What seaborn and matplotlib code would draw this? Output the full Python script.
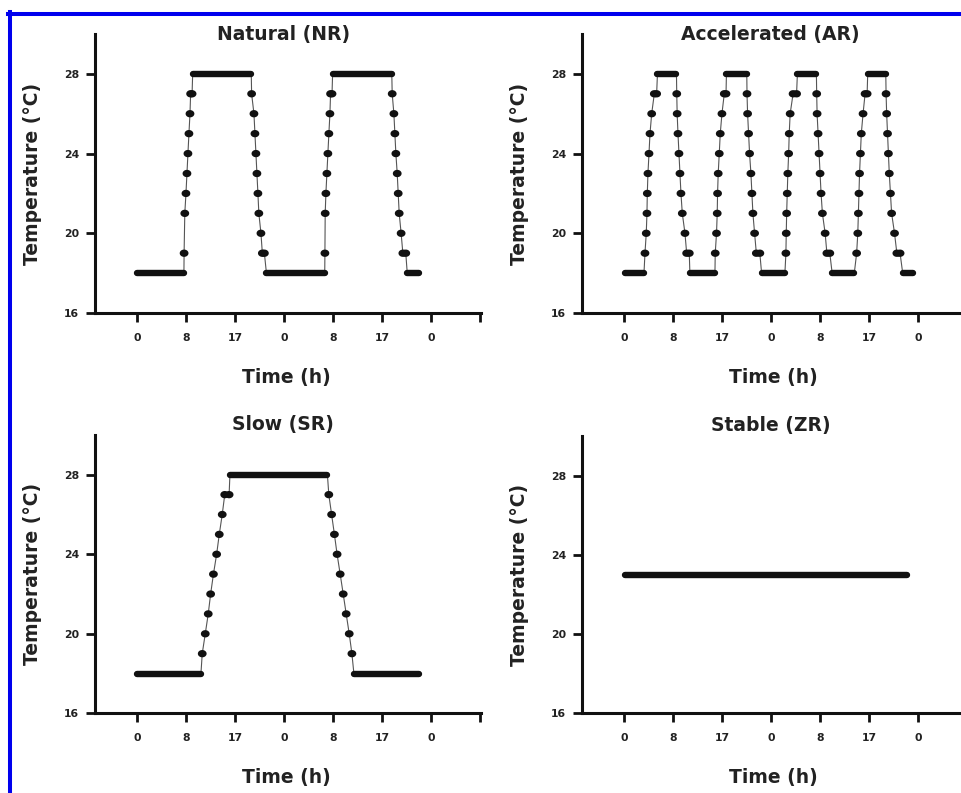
import numpy as np
import pandas as pd
import matplotlib
matplotlib.use("Agg")
import matplotlib.pyplot as plt
import seaborn as sns
from matplotlib.lines import Line2D
from matplotlib.path import Path

# ---------------- data (time in h, temperature in degC) ----------------
x_tick_pos = [0, 8.4, 16.8, 25.2, 33.6, 42.0, 50.4, 58.8]
x_tick_labels = ["0", "8", "17", "0", "8", "17", "0", ""]
y_ticks = [16, 20, 24, 28]
y_tick_labels = ["16", "20", "24", "28"]
titles = ["Natural (NR)", "Accelerated (AR)", "Slow (SR)", "Stable (ZR)"]

# Natural (NR)
nr_flat_start = [0.0, 9.55, 22.2, 33.55, 46.35]
nr_flat_end = [8.05, 19.6, 32.2, 43.7, 48.3]
nr_flat_temp = [18, 28, 18, 28, 18]
nr_ramp_time = [8.08, 8.2, 8.4, 8.57, 8.74, 8.91, 9.09, 9.2, 9.45,
                19.66, 20.06, 20.23, 20.4, 20.57, 20.74, 20.9, 21.26, 21.5, 21.85,
                32.23, 32.28, 32.4, 32.57, 32.74, 32.91, 33.09, 33.2, 33.45,
                43.77, 44.06, 44.23, 44.4, 44.63, 44.8, 44.97, 45.3, 45.6, 46.1]
nr_ramp_temp = [19, 21, 22, 23, 24, 25, 26, 27, 27,
                27, 26, 25, 24, 23, 22, 21, 20, 19, 19,
                19, 21, 22, 23, 24, 25, 26, 27, 27,
                27, 26, 25, 24, 23, 22, 21, 20, 19, 19]

# Accelerated (AR)
ar_flat_start = [0.17, 5.74, 11.3, 17.57, 23.6, 29.74, 35.7, 41.8, 47.8]
ar_flat_end = [3.43, 9.0, 15.6, 21.06, 27.6, 33.0, 39.5, 44.9, 49.5]
ar_flat_temp = [18, 28, 18, 28, 18, 28, 18, 28, 18]
ar_ramp_time = [3.6, 3.82, 3.94, 4.0, 4.11, 4.29, 4.46, 4.75, 5.2, 5.6,
                9.05, 9.12, 9.26, 9.43, 9.6, 9.77, 10.0, 10.46, 10.75, 11.2,
                15.65, 15.87, 15.99, 16.05, 16.16, 16.34, 16.51, 16.8, 17.2, 17.5,
                21.1, 21.2, 21.37, 21.54, 21.77, 21.94, 22.11, 22.4, 22.7, 23.3,
                27.77, 27.83, 27.9, 28.0, 28.1, 28.24, 28.34, 28.5, 29.0, 29.6,
                33.05, 33.12, 33.29, 33.46, 33.63, 33.8, 34.03, 34.5, 34.8, 35.3,
                39.9, 40.1, 40.2, 40.3, 40.4, 40.55, 40.7, 41.0, 41.35, 41.7,
                44.95, 45.05, 45.2, 45.35, 45.5, 45.7, 45.9, 46.4, 46.8, 47.35]
ar_ramp_temp = [19, 20, 21, 22, 23, 24, 25, 26, 27, 27,
                27, 26, 25, 24, 23, 22, 21, 20, 19, 19,
                19, 20, 21, 22, 23, 24, 25, 26, 27, 27,
                27, 26, 25, 24, 23, 22, 21, 20, 19, 19,
                19, 20, 21, 22, 23, 24, 25, 26, 27, 27,
                27, 26, 25, 24, 23, 22, 21, 20, 19, 19,
                19, 20, 21, 22, 23, 24, 25, 26, 27, 27,
                27, 26, 25, 24, 23, 22, 21, 20, 19, 19]

# Slow (SR)
sr_flat_start = [0.07, 15.94, 37.2]
sr_flat_end = [10.97, 32.66, 48.35]
sr_flat_temp = [18, 28, 18]
sr_ramp_time = [11.19, 11.71, 12.22, 12.63, 13.11, 13.66, 14.11, 14.62, 15.05, 15.8,
                32.9, 33.38, 33.86, 34.32, 34.85, 35.37, 35.88, 36.4, 36.86]
sr_ramp_temp = [19, 20, 21, 22, 23, 24, 25, 26, 27, 27,
                27, 26, 25, 24, 23, 22, 21, 20, 19]

# Stable (ZR)
zr_flat_start = [0.17]
zr_flat_end = [48.6]
zr_flat_temp = [23]
zr_ramp_time = []
zr_ramp_temp = []

# ---------------- style ----------------
sns.set_style("ticks")
plt.rcParams["font.family"] = ["DejaVu Sans"]
plt.rcParams["font.weight"] = "bold"
TXT = "#222222"
INK = "#111111"

# slightly wide elliptical dot marker
_ang = np.linspace(0, 2 * np.pi, 40)
ellipse_marker = Path(np.column_stack([1.2 * np.cos(_ang), np.sin(_ang)]), closed=True)

fig = plt.figure(figsize=(9.62, 7.93), dpi=100)

W, H = 962.0, 793.0
panels = [
    # left px, top px, bottom px, title y (axes frac)
    (95, 34, 313, 1.0),
    (582, 34, 313, 1.0),
    (95, 435, 713.3, 1.038),
    (582, 436, 713.3, 1.038),
]
datasets = [
    (nr_flat_start, nr_flat_end, nr_flat_temp, nr_ramp_time, nr_ramp_temp),
    (ar_flat_start, ar_flat_end, ar_flat_temp, ar_ramp_time, ar_ramp_temp),
    (sr_flat_start, sr_flat_end, sr_flat_temp, sr_ramp_time, sr_ramp_temp),
    (zr_flat_start, zr_flat_end, zr_flat_temp, zr_ramp_time, zr_ramp_temp),
]

for (lpx, tpx, bpx, ty), (fs, fe, ft, rt, rT), title in zip(panels, datasets, titles):
    ax = fig.add_axes([lpx / W, 1 - bpx / H, 386 / W, (bpx - tpx) / H])

    # thin connecting line through all vertices
    vt = list(fs) + list(fe) + list(rt)
    vT = list(ft) + list(ft) + list(rT)
    order = np.argsort(vt, kind="stable")
    conn = pd.DataFrame({"t": np.array(vt)[order], "T": np.array(vT)[order]})
    sns.lineplot(data=conn, x="t", y="T", sort=False, estimator=None,
                 color="#555555", lw=0.8, ax=ax, zorder=2)

    # plateaus (dense rows of points -> thick bars)
    seg = pd.DataFrame({
        "t": list(fs) + list(fe),
        "T": list(ft) + list(ft),
        "seg": list(range(len(fs))) * 2,
    })
    sns.lineplot(data=seg, x="t", y="T", units="seg", estimator=None,
                 color=INK, lw=4.6, solid_capstyle="round", ax=ax, zorder=3)

    # ramp points
    if len(rt):
        sns.scatterplot(x=rt, y=rT, s=40, color=INK, edgecolor="none",
                        marker=ellipse_marker, ax=ax, zorder=4)

    ax.set_xlim(-7.2, 59.0)
    ax.set_ylim(16, 30)
    ax.set_xticks(x_tick_pos)
    ax.set_xticklabels(x_tick_labels)
    ax.set_yticks(y_ticks)
    ax.set_yticklabels(y_tick_labels)
    sns.despine(ax=ax)
    for s in ("left", "bottom"):
        ax.spines[s].set_linewidth(2.2)
        ax.spines[s].set_color(INK)
    ax.tick_params(axis="both", direction="out", width=2.0, length=6.5,
                   color=INK, labelcolor=TXT, labelsize=7.8)
    ax.tick_params(axis="x", pad=8)
    ax.tick_params(axis="y", pad=5)
    for lab in ax.get_xticklabels() + ax.get_yticklabels():
        lab.set_fontweight("bold")

    ax.set_xlabel("Time (h)", fontsize=13.5, fontweight="bold", color=TXT, va="center")
    ax.xaxis.set_label_coords(0.497, -0.232)
    ax.set_ylabel("Temperature (°C)", fontsize=13.5, fontweight="bold", color=TXT, va="center")
    ax.yaxis.set_label_coords(-0.163, 0.5)
    ax.text(0.488, ty, title, transform=ax.transAxes, ha="center", va="center",
            fontsize=13.5, fontweight="bold", color=TXT)

# blue frame on left and top edges
fig.add_artist(Line2D([10 / W, 10 / W], [-0.01, 1 - 12 / H], color="#0000ee",
                      lw=2.9, transform=fig.transFigure, solid_capstyle="projecting"))
fig.add_artist(Line2D([8 / W, 1.01], [1 - 14 / H, 1 - 14 / H], color="#0000ee",
                      lw=2.9, transform=fig.transFigure, solid_capstyle="projecting"))

fig.savefig("out.png", dpi=100, facecolor="white")
